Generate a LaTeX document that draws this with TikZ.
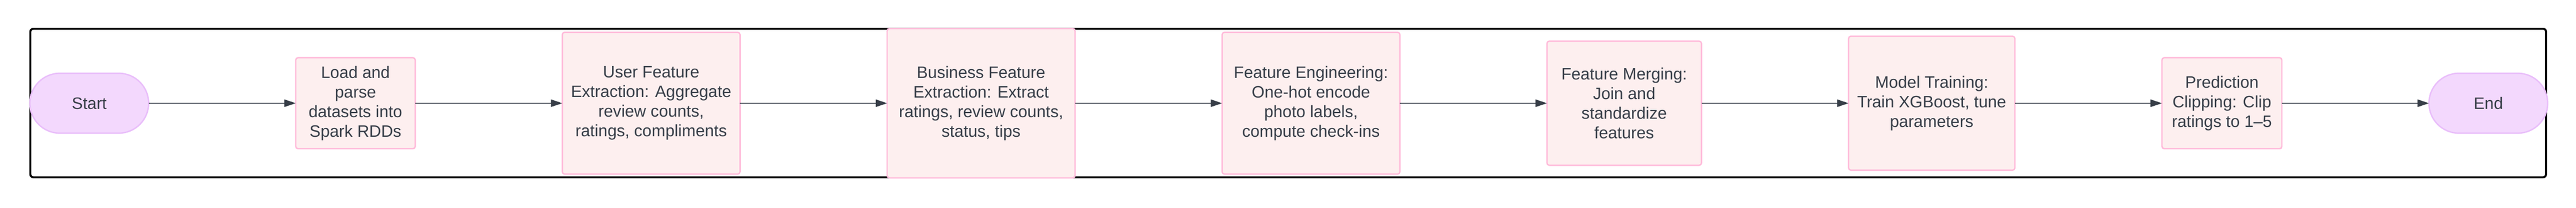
\documentclass[tikz,border=0pt]{standalone}
\usepackage{fontspec}
\setmainfont{Liberation Sans}
\usetikzlibrary{positioning,arrows.meta}
\definecolor{inkgray}{RGB}{55,62,72}
\definecolor{termfill}{RGB}{243,216,253}
\definecolor{termline}{RGB}{233,190,250}
\definecolor{stepfill}{RGB}{253,239,239}
\definecolor{stepline}{RGB}{255,187,218}
\begin{document}
\begin{tikzpicture}[
        node distance=3.74cm,
        every node/.style={font=\fontsize{11.95pt}{14.2pt}\selectfont, text=inkgray, align=center, outer sep=0pt},
        terminal/.style={draw=termline, fill=termfill, line width=1pt, rounded corners=0.76cm, minimum width=3.02cm, minimum height=1.52cm},
        process/.style={draw=stepline, fill=stepfill, line width=1pt, rounded corners=0.6mm},
        flow/.style={draw=inkgray, line width=0.4pt, -{Triangle[length=0.29cm,width=0.19cm]}}
    ]
    \useasboundingbox (0,0) rectangle (65.51,5.27);
    % outer frame
    \draw[line width=1.45pt, rounded corners=0.08cm] (0.77,0.77) rectangle (64.75,4.54);

    \node[terminal] (start) at (2.27,2.65) {Start};
    \node[process, right=of start, minimum width=3.04cm, minimum height=2.31cm] (load) {Load and\\parse\\datasets into\\Spark RDDs};
    \node[process, right=of load, minimum width=4.52cm, minimum height=3.60cm] (user) {User Feature\\Extraction: Aggregate\\review counts,\\ratings, compliments};
    \node[process, right=of user, minimum width=4.78cm, minimum height=3.79cm] (business) {Business Feature\\Extraction: Extract\\ratings, review counts,\\status, tips};
    \node[process, right=of business, minimum width=4.52cm, minimum height=3.60cm] (engineer) {Feature Engineering:\\One-hot encode\\photo labels,\\compute check-ins};
    \node[process, right=of engineer, minimum width=3.93cm, minimum height=3.15cm] (merge) {Feature Merging:\\Join and\\standardize\\features};
    \node[process, right=of merge, minimum width=4.23cm, minimum height=3.40cm] (train) {Model Training:\\Train XGBoost, tune\\parameters};
    \node[process, right=of train, minimum width=3.05cm, minimum height=2.31cm] (clip) {Prediction\\Clipping: Clip\\ratings to 1--5};
    \node[terminal, right=of clip] (end) {End};

    \foreach \a/\b in {start/load, load/user, user/business, business/engineer, engineer/merge, merge/train, train/clip, clip/end}
        \draw[flow] (\a) -- (\b);
\end{tikzpicture}
\end{document}
